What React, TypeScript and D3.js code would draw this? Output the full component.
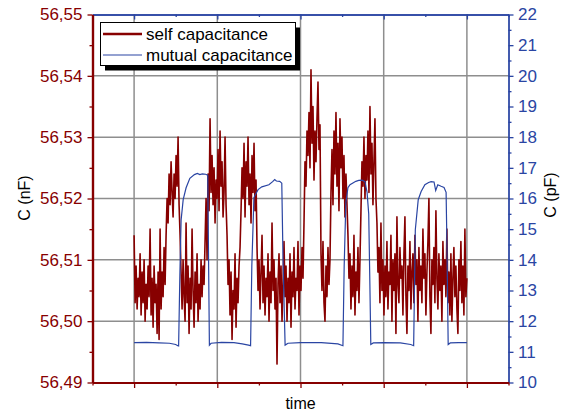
import { useEffect, useRef } from "react";
import * as d3 from "d3";

// self capacitance in nF, evenly sampled from t = 1 to t = 9
const selfCap = [
  56.514, 56.503, 56.509, 56.502, 56.507, 56.504, 56.511, 56.501, 56.508, 56.503,
  56.510, 56.500, 56.506, 56.502, 56.509, 56.504, 56.515, 56.501, 56.507, 56.499,
  56.509, 56.503, 56.506, 56.498, 56.508, 56.497, 56.515, 56.502, 56.508, 56.504,
  56.512, 56.506,
  56.514, 56.520, 56.516, 56.524, 56.519, 56.526, 56.521, 56.517, 56.524, 56.520,
  56.527, 56.522, 56.530, 56.519, 56.514,
  56.508, 56.502, 56.510, 56.504, 56.500, 56.516, 56.503, 56.509, 56.498, 56.507,
  56.502, 56.515, 56.505, 56.499, 56.508, 56.503, 56.511, 56.500, 56.506, 56.502,
  56.510, 56.504, 56.509, 56.506, 56.513,
  56.520, 56.510, 56.524, 56.518, 56.533, 56.521, 56.527, 56.519, 56.525, 56.516,
  56.523, 56.520, 56.528, 56.518, 56.531, 56.522, 56.526, 56.517, 56.521, 56.530,
  56.519, 56.514,
  56.506, 56.510, 56.501, 56.508, 56.497, 56.505, 56.502, 56.511, 56.499, 56.507,
  56.503, 56.509, 56.512,
  56.518, 56.525, 56.520, 56.529, 56.517, 56.526, 56.522, 56.530, 56.519, 56.524,
  56.516, 56.527, 56.521, 56.529, 56.518, 56.523,
  56.512, 56.505, 56.510, 56.502, 56.508, 56.514, 56.503, 56.509, 56.501, 56.507,
  56.504, 56.511, 56.500, 56.508, 56.503, 56.516, 56.505, 56.510, 56.502, 56.507,
  56.493, 56.506, 56.511, 56.503, 56.509, 56.500, 56.506, 56.513, 56.504, 56.509,
  56.500, 56.507, 56.503, 56.511, 56.499, 56.508, 56.504, 56.512, 56.502, 56.507,
  56.505, 56.513, 56.501, 56.509, 56.505, 56.512, 56.507,
  56.516, 56.526, 56.522, 56.531, 56.527, 56.534, 56.525, 56.541, 56.529, 56.535,
  56.523, 56.531, 56.526, 56.533, 56.539, 56.528, 56.532,
  56.511, 56.505, 56.513, 56.503, 56.500, 56.509, 56.504, 56.512, 56.506, 56.510,
  56.521, 56.528, 56.519, 56.531, 56.524, 56.534, 56.522, 56.529, 56.518, 56.533,
  56.525, 56.530, 56.520, 56.527, 56.517, 56.524, 56.519, 56.514,
  56.507, 56.511, 56.502, 56.509, 56.504, 56.514, 56.501, 56.508, 56.505, 56.512,
  56.503, 56.510,
  56.518, 56.526, 56.522, 56.530, 56.520, 56.527, 56.523, 56.531, 56.521, 56.535,
  56.524, 56.529, 56.519, 56.526, 56.533, 56.520, 56.516,
  56.508, 56.512, 56.503, 56.516, 56.505, 56.510, 56.501, 56.509, 56.504, 56.513,
  56.502, 56.508, 56.506, 56.514, 56.500, 56.510, 56.505, 56.511, 56.498, 56.517,
  56.506, 56.503, 56.512, 56.507, 56.509, 56.501, 56.511, 56.517, 56.504, 56.498,
  56.509, 56.505, 56.513, 56.502, 56.508, 56.511, 56.503, 56.514, 56.506, 56.510,
  56.500, 56.512, 56.505, 56.509, 56.503, 56.515, 56.507, 56.511, 56.501, 56.508,
  56.513, 56.520, 56.504, 56.498, 56.510, 56.506, 56.512, 56.503, 56.518, 56.507,
  56.502, 56.511, 56.505, 56.509, 56.500, 56.513, 56.506, 56.510, 56.504, 56.515,
  56.503, 56.508, 56.501, 56.511, 56.500, 56.507, 56.512, 56.504, 56.509, 56.502,
  56.498, 56.510, 56.505, 56.513, 56.503, 56.509, 56.501, 56.515, 56.504, 56.507,
];

// mutual capacitance (pF) against time
const mutualTime = [
  1.0, 1.3, 1.6, 1.85, 2.0, 2.05, 2.07, 2.1, 2.13, 2.18,
  2.25, 2.34, 2.45, 2.52, 2.58, 2.64, 2.72, 2.77, 2.79, 2.81,
  2.85, 3.1, 3.4, 3.6, 3.75, 3.8, 3.83, 3.88, 3.98, 4.07,
  4.24, 4.33, 4.38, 4.42, 4.5, 4.55, 4.58, 4.63, 4.7, 5.0,
  5.5, 5.9, 6.02, 6.05, 6.09, 6.14, 6.19, 6.33, 6.4, 6.48,
  6.55, 6.6, 6.64, 6.67, 6.69, 6.75, 7.0, 7.4, 7.65, 7.72,
  7.76, 7.83, 7.9, 7.99, 8.08, 8.14, 8.21, 8.25, 8.3, 8.38,
  8.45, 8.5, 8.52, 8.55, 8.6, 8.8, 9.0,
];
const mutualCap = [
  11.3, 11.31, 11.29, 11.28, 11.24, 11.2, 11.19, 13.5, 15.3, 15.96,
  16.35, 16.66, 16.78, 16.82, 16.78, 16.8, 16.79, 16.76, 14.0, 11.22,
  11.28, 11.31, 11.3, 11.26, 11.22, 11.2, 13.8, 16.03, 16.29, 16.38,
  16.45, 16.55, 16.62, 16.57, 16.56, 16.5, 14.0, 11.22, 11.28, 11.3,
  11.3, 11.26, 11.2, 13.8, 15.86, 16.35, 16.45, 16.56, 16.59, 16.6,
  16.55, 16.2, 15.5, 13.0, 11.24, 11.29, 11.3, 11.29, 11.24, 11.2,
  14.98, 15.96, 16.23, 16.45, 16.52, 16.55, 16.54, 16.26, 16.45, 16.4,
  16.36, 16.2, 14.5, 11.24, 11.29, 11.3, 11.3,
];

const leftTicks = [56.49, 56.5, 56.51, 56.52, 56.53, 56.54, 56.55];
const leftMinor = [56.495, 56.505, 56.515, 56.525, 56.535, 56.545];
const rightTicks = [10, 11, 12, 13, 14, 15, 16, 17, 18, 19, 20, 21, 22];
const rightMinor = [10.5, 11.5, 12.5, 13.5, 14.5, 15.5, 16.5, 17.5, 18.5, 19.5, 20.5, 21.5];
const timeTicks = [1, 3, 5, 7, 9];
const timeMinor = [0, 2, 4, 6, 8, 10];
const legendLabels = ["self capacitance", "mutual capacitance"];

const App = () => {
  const svgRef = useRef<SVGSVGElement>(null);

  useEffect(() => {
    const svg = d3.select(svgRef.current);
    svg.selectAll("*").remove();

    const left = 92.5, right = 508.5, top = 14.5, bottom = 382.5;
    const red = "#870000";
    const blue = "#2a45a3";
    const font = "'Liberation Sans', Arial, sans-serif";

    const x = d3.scaleLinear().domain([0, 10]).range([left, right]);
    const yL = d3.scaleLinear().domain([56.49, 56.55]).range([bottom, top]);
    const yR = d3.scaleLinear().domain([10, 22]).range([bottom, top]);
    const idx = d3.scaleLinear().domain([0, selfCap.length - 1]).range([1, 9]);

    const comma = d3.formatLocale({ decimal: ",", thousands: ".", grouping: [3], currency: ["", ""] });
    const fmt = comma.format(".2f");

    // grid
    const grid = svg.append("g").attr("stroke", "#8e8e8e").attr("stroke-width", 1.5);
    grid.selectAll(".h").data(leftTicks.slice(1, -1)).enter().append("line")
      .attr("x1", left).attr("x2", right)
      .attr("y1", (d) => yL(d)).attr("y2", (d) => yL(d));
    grid.selectAll(".v").data(timeTicks).enter().append("line")
      .attr("x1", (d) => x(d)).attr("x2", (d) => x(d))
      .attr("y1", top).attr("y2", bottom);

    // data
    const redLine = d3.line<number>().x((d, i) => x(idx(i))).y((d) => yL(d));
    svg.append("path").datum(selfCap)
      .attr("d", redLine).attr("fill", "none")
      .attr("stroke", red).attr("stroke-width", 1.6).attr("stroke-linejoin", "round");

    const blueLine = d3.line<number>().x((d, i) => x(mutualTime[i])).y((d) => yR(d));
    svg.append("path").datum(mutualCap)
      .attr("d", blueLine).attr("fill", "none")
      .attr("stroke", blue).attr("stroke-width", 1.2);

    const styleAxis = (g, color, width) => {
      g.select(".domain").attr("stroke", color).attr("stroke-width", width);
      g.selectAll(".tick line").attr("stroke", color).attr("stroke-width", 1.3);
      g.selectAll(".tick text").attr("fill", color).style("font-family", font).style("font-size", "17px");
    };

    // top axis (blue), ticks inward
    svg.append("g").attr("transform", `translate(0,${top})`)
      .call(d3.axisBottom(x).tickValues(timeMinor).tickFormat(() => "").tickSize(2.5).tickSizeOuter(0))
      .call((g) => styleAxis(g, blue, 1.3));
    svg.append("g").attr("transform", `translate(0,${top})`)
      .call(d3.axisBottom(x).tickValues(timeTicks).tickFormat(() => "").tickSize(5).tickSizeOuter(0))
      .call((g) => styleAxis(g, blue, 1.3));

    // right axis (blue)
    svg.append("g").attr("transform", `translate(${right},0)`)
      .call(d3.axisRight(yR).tickValues(rightMinor).tickFormat(() => "").tickSize(3).tickSizeOuter(0))
      .call((g) => styleAxis(g, blue, 1.3));
    svg.append("g").attr("transform", `translate(${right},0)`)
      .call(d3.axisRight(yR).tickValues(rightTicks).tickFormat(d3.format("d")).tickSize(5).tickPadding(4.5).tickSizeOuter(0))
      .call((g) => styleAxis(g, blue, 1.3));

    // bottom axis (red)
    svg.append("g").attr("transform", `translate(0,${bottom})`)
      .call(d3.axisBottom(x).tickValues(timeMinor).tickFormat(() => "").tickSize(3).tickSizeOuter(0))
      .call((g) => styleAxis(g, red, 2.2));
    svg.append("g").attr("transform", `translate(0,${bottom})`)
      .call(d3.axisBottom(x).tickValues(timeTicks).tickFormat(() => "").tickSize(5.5).tickSizeOuter(0))
      .call((g) => styleAxis(g, red, 2.2));

    // left axis (red)
    svg.append("g").attr("transform", `translate(${left},0)`)
      .call(d3.axisLeft(yL).tickValues(leftMinor).tickFormat(() => "").tickSize(3).tickSizeOuter(0))
      .call((g) => styleAxis(g, red, 2.2));
    svg.append("g").attr("transform", `translate(${left},0)`)
      .call(d3.axisLeft(yL).tickValues(leftTicks).tickFormat(fmt).tickSize(5).tickPadding(5).tickSizeOuter(0))
      .call((g) => styleAxis(g, red, 2.2));

    // titles
    svg.append("text").attr("transform", "translate(24.5,198) rotate(-90)")
      .attr("text-anchor", "middle").attr("dy", "0.35em")
      .style("font-family", font).style("font-size", "16px").text("C (nF)");
    svg.append("text").attr("transform", "translate(550.5,195) rotate(-90)")
      .attr("text-anchor", "middle").attr("dy", "0.35em")
      .style("font-family", font).style("font-size", "16px").text("C (pF)");
    svg.append("text").attr("x", (left + right) / 2).attr("y", 409)
      .attr("text-anchor", "middle")
      .style("font-family", font).style("font-size", "16px").text("time");

    // legend
    const lg = svg.append("g");
    lg.append("rect").attr("x", 105).attr("y", 27.5).attr("width", 195).attr("height", 43).attr("fill", "#000");
    lg.append("rect").attr("x", 100.5).attr("y", 22.5).attr("width", 195).attr("height", 43)
      .attr("fill", "#fff").attr("stroke", "#000").attr("stroke-width", 1);
    const colors = [red, blue];
    const widths = [2.5, 1.2];
    legendLabels.forEach((label, i) => {
      const yy = 34 + i * 21;
      lg.append("line").attr("x1", 103).attr("x2", 142).attr("y1", yy).attr("y2", yy)
        .attr("stroke", colors[i]).attr("stroke-width", widths[i]);
      lg.append("text").attr("x", 146).attr("y", yy + 6)
        .style("font-family", font).style("font-size", "17px").text(label);
    });
  }, []);

  return (
    <svg
      ref={svgRef}
      width={565}
      height={414}
      style={{ position: "absolute", left: 0, top: 0, background: "#fff" }}
    />
  );
};

export default App;
